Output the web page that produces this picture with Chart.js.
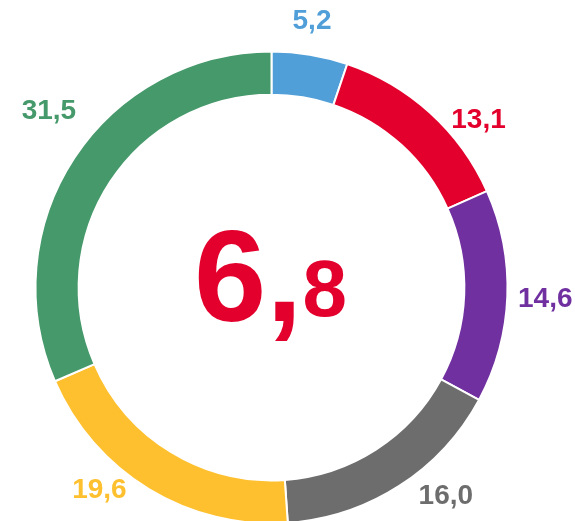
<!DOCTYPE html>
<html>
<head>
<meta charset="utf-8">
<script src="https://cdn.jsdelivr.net/npm/chart.js@4/dist/chart.umd.min.js"></script>
<style>
  html, body { margin: 0; padding: 0; background: #fff; overflow: hidden; }
  #wrap { position: relative; width: 575px; height: 521px; }
</style>
</head>
<body>
<div id="wrap"><canvas id="Ring"></canvas></div>
<script>
var labels = ['5,2', '13,1', '14,6', '16,0', '19,6', '31,5'];
var values = [5.2, 13.1, 14.6, 16.0, 19.6, 31.5];
var colors = ['#519fd8', '#e3002c', '#7030a0', '#6d6d6d', '#fec02e', '#45996a'];
var centerBig = '6,';
var centerSmall = '8';

// label nudges: [extra degrees along ring, extra px outward]
var labelNudge = [[-0.7, 0], [8.8, -3], [0.2, 5], [-7.1, 3], [9.0, -3], [5.1, 15]];

var ringLabels = {
    id: 'ringLabels',
    afterDatasetsDraw: function(chart) {
        var ctx = chart.ctx;
        var meta = chart.getDatasetMeta(0);
        ctx.save();
        ctx.font = 'bold 28px "Liberation Sans", Arial, sans-serif';
        ctx.textAlign = 'center';
        ctx.textBaseline = 'middle';
        var cx, cy;
        meta.data.forEach(function(arc, i) {
            var p = arc.getProps(['x', 'y', 'startAngle', 'endAngle', 'outerRadius']);
            cx = p.x; cy = p.y;
            var mid = (p.startAngle + p.endAngle) / 2 + labelNudge[i][0] * Math.PI / 180;
            var r = p.outerRadius + 33 + labelNudge[i][1];
            ctx.fillStyle = colors[i];
            ctx.fillText(labels[i], p.x + Math.cos(mid) * r, p.y + Math.sin(mid) * r);
        });

        // centre figure: big "6," and a smaller, slightly raised "8"
        ctx.fillStyle = '#e3002c';
        ctx.textAlign = 'left';
        ctx.textBaseline = 'alphabetic';
        ctx.font = 'bold 130px "Liberation Sans", Arial, sans-serif';
        var w1 = ctx.measureText(centerBig).width;
        ctx.font = 'bold 80px "Liberation Sans", Arial, sans-serif';
        var w2 = ctx.measureText(centerSmall).width;
        var x0 = cx - (w1 + w2) / 2 - 1;
        var base = cy + 33.5;
        ctx.font = 'bold 130px "Liberation Sans", Arial, sans-serif';
        ctx.fillText(centerBig, x0, base);
        ctx.font = 'bold 80px "Liberation Sans", Arial, sans-serif';
        ctx.fillText(centerSmall, x0 + w1, base - 5);
        ctx.restore();
    }
};

var data = {
    labels: labels,
    datasets: [{
        data: values,
        backgroundColor: colors,
        borderColor: '#ffffff',
        borderWidth: 2,
        hoverOffset: 0
    }]
};

var config = {
    type: 'doughnut',
    data: data,
    options: {
        responsive: false,
        animation: false,
        radius: 236,
        cutout: 190,
        layout: { padding: { left: 0, right: 32, top: 54, bottom: 0 } },
        plugins: {
            legend: { display: false },
            tooltip: { enabled: false }
        }
    },
    plugins: [ringLabels]
};

var cv = document.getElementById('Ring');
cv.width = 575;
cv.height = 521;
var ringChart = new Chart(cv, config);
</script>
</body>
</html>
